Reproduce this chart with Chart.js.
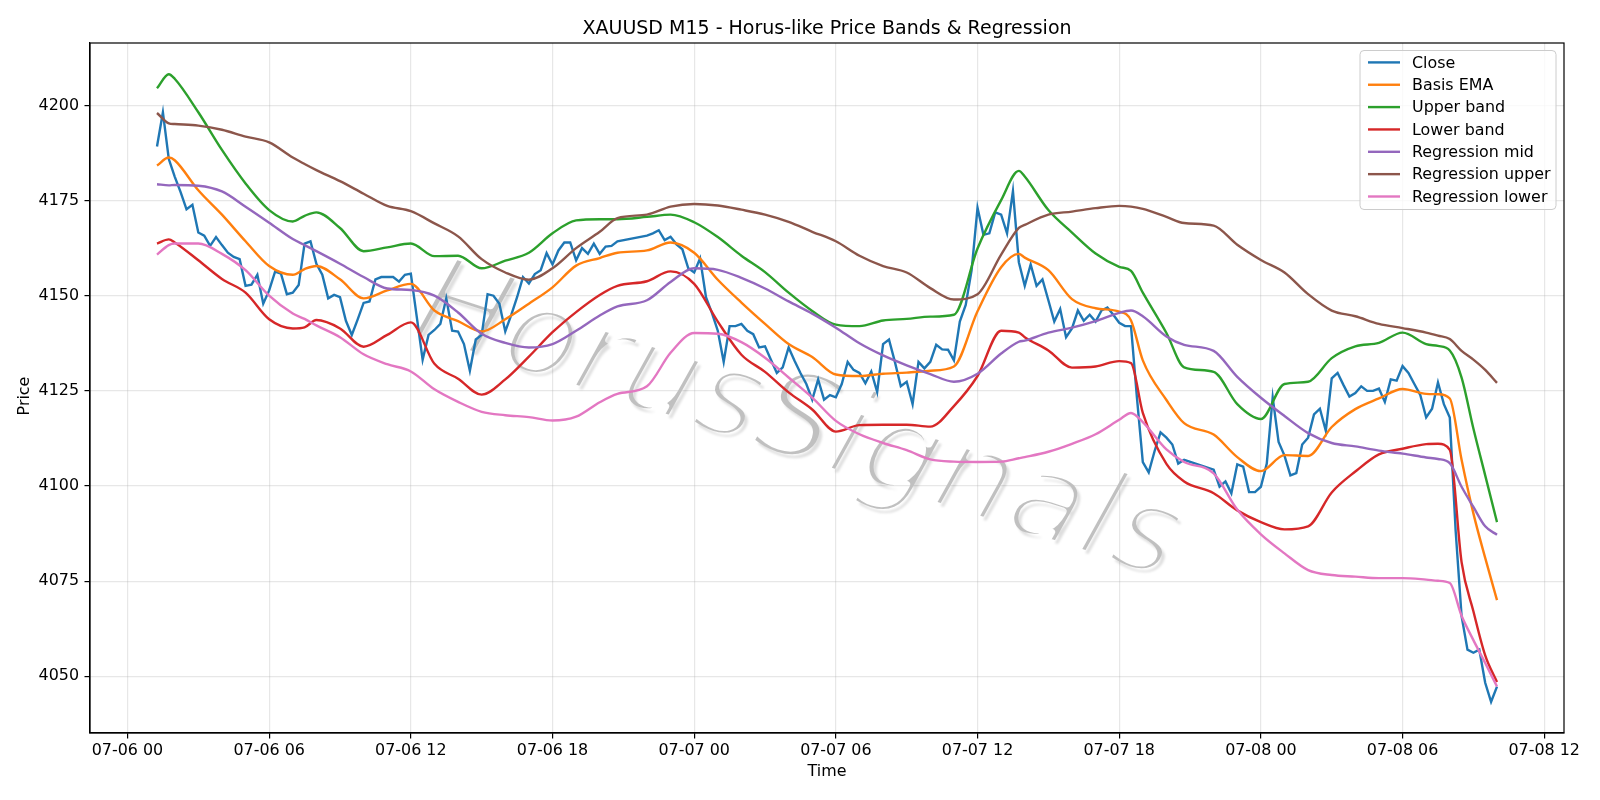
<!DOCTYPE html>
<html>
<head>
<meta charset="utf-8">
<title>XAUUSD M15 - Horus-like Price Bands & Regression</title>
<script src="https://cdn.jsdelivr.net/npm/chart.js@4.4.1/dist/chart.umd.min.js"></script>
<style>
  html, body { margin: 0; padding: 0; background: #fff; }
</style>
</head>
<body>
<canvas id="chart" width="1600" height="800"></canvas>
<script>
// time is in hours from 07-06 00:00, M15 bars, two daily breaks
const sessions = [[1.25, 20.75], [22, 44.75], [46, 58]];

const closeValues = [
  // 07-06 01:15 .. 20:45
  4189.2, 4198.2, 4185.9, 4181.3, 4177.2, 4172.7, 4173.9, 4166.6,
  4165.8, 4163.1, 4165.4, 4163.3, 4161.3, 4160.2, 4159.6, 4152.6,
  4152.9, 4155.5, 4147.9, 4151.4, 4156.3, 4155.8, 4150.4, 4150.8,
  4152.8, 4163.7, 4164.3, 4158.4, 4155.5, 4149.3, 4150.2, 4149.6,
  4143.4, 4139.7, 4143.8, 4148.1, 4148.5, 4154.3, 4154.9, 4154.9,
  4154.9, 4153.7, 4155.5, 4155.8, 4144.5, 4133.2, 4139.7, 4141.0,
  4142.6, 4149.3, 4140.8, 4140.6, 4137.3, 4130.3, 4138.5, 4139.7,
  4150.4, 4150.0, 4147.9, 4140.6, 4144.9, 4149.6, 4154.9, 4153.2,
  4155.7, 4156.7, 4161.2, 4158.2, 4161.9, 4164.0, 4164.0, 4159.3,
  4162.5, 4161.0, 4163.7, 4161.0, 4162.9, 4163.1, 4164.3,
  // 07-06 22:00 .. 07-07 20:45
  4165.8, 4166.4, 4167.2, 4164.6, 4165.5, 4163.5, 4162.2, 4157.2,
  4156.1, 4159.8, 4149.6, 4145.5, 4140.8, 4132.6, 4142.0, 4142.0,
  4142.6, 4140.8, 4139.9, 4136.4, 4136.7, 4133.2, 4129.7, 4131.2,
  4136.4, 4132.9, 4129.7, 4126.8, 4122.7, 4128.0, 4122.7, 4123.9,
  4123.3, 4126.8, 4132.6, 4130.5, 4129.7, 4127.0, 4130.1, 4124.7,
  4137.3, 4138.5, 4132.6, 4126.2, 4127.4, 4121.5, 4132.6, 4130.9,
  4132.6, 4137.1, 4135.9, 4135.8, 4133.0, 4143.2, 4147.6, 4156.7,
  4173.1, 4166.0, 4166.4, 4171.9, 4171.3, 4166.4, 4177.5, 4158.8,
  4152.6, 4158.2, 4152.6, 4154.3, 4148.8, 4143.2, 4146.5, 4139.1,
  4141.4, 4146.1, 4143.4, 4145.0, 4143.2, 4146.1, 4146.9, 4145.0,
  4142.9, 4142.0, 4142.0, 4123.3, 4106.3, 4103.6, 4109.2, 4114.1,
  4112.7, 4110.9, 4105.9, 4106.9,
  // 07-07 22:00 .. 07-08 10:00
  4104.3, 4099.8, 4101.2, 4098.1, 4105.7, 4105.1, 4098.4, 4098.4,
  4099.8, 4105.9, 4123.3, 4111.6, 4108.0, 4102.8, 4103.4, 4110.9,
  4112.7, 4118.8, 4120.3, 4114.5, 4128.3, 4129.7, 4126.5, 4123.5,
  4124.4, 4126.2, 4125.0, 4125.0, 4125.6, 4122.1, 4128.0, 4127.7,
  4131.5, 4129.7, 4126.8, 4123.9, 4118.0, 4120.3, 4127.2, 4121.5,
  4118.0, 4088.1, 4065.8, 4057.0, 4056.2, 4057.0, 4048.3, 4043.3,
  4047.3
];

// sampled hours for the smoother indicator lines
const bandHours = [
  1.25, 1.75, 2, 3, 4, 5, 6, 7, 7.5, 8,
  9, 10, 11, 12, 13, 14, 15, 16, 17, 18,
  19, 20, 20.75, 22, 23, 24, 25, 26, 27, 28,
  29, 30, 31, 32, 33, 34, 35, 36, 37, 37.75,
  38, 39, 40, 41, 42, 42.5, 43, 44, 44.75, 46,
  47, 48, 49, 50, 51, 52, 53, 54, 55, 55.5,
  56, 56.5, 57, 57.5, 58
];

const basisEma = [
  4184.2, 4186.3, 4185.6, 4177.7, 4171.3, 4164.3, 4157.8, 4155.5, 4157.0, 4157.8,
  4154.3, 4149.3, 4151.4, 4153.1, 4146.1, 4143.3, 4140.6, 4143.8, 4147.9, 4152.2,
  4157.9, 4159.9, 4161.3, 4161.9, 4164.0, 4161.3, 4154.2, 4148.2, 4142.6, 4137.3,
  4133.9, 4129.3, 4128.9, 4129.5, 4129.8, 4130.3, 4131.4, 4145.9, 4157.5, 4161.0,
  4160.0, 4156.7, 4149.1, 4146.7, 4145.8, 4143.5, 4133.0, 4122.6, 4116.5, 4113.5,
  4107.6, 4103.9, 4108.1, 4107.9, 4115.5, 4120.2, 4123.0, 4125.5, 4124.2, 4124.1,
  4123.0, 4106.9, 4092.8, 4081.1, 4070.0
];

const upperBand = [
  4204.5, 4208.2, 4207.0, 4198.2, 4188.3, 4179.5, 4172.5, 4169.5, 4171.0, 4171.9,
  4167.8, 4161.7, 4162.7, 4163.7, 4160.4, 4160.5, 4157.2, 4159.2, 4161.3, 4166.4,
  4169.8, 4170.1, 4170.1, 4170.7, 4171.3, 4169.3, 4165.4, 4160.5, 4156.2, 4150.8,
  4146.0, 4142.4, 4142.0, 4143.5, 4143.9, 4144.5, 4145.0, 4162.4, 4175.1, 4182.8,
  4181.3, 4172.5, 4166.6, 4161.1, 4157.6, 4156.5, 4150.8, 4140.2, 4131.2, 4130.0,
  4121.5, 4117.6, 4126.8, 4127.4, 4133.6, 4136.7, 4137.6, 4140.3, 4137.3, 4136.8,
  4135.6, 4128.5, 4115.1, 4102.8, 4090.5
];

const lowerBand = [
  4163.7, 4164.8, 4164.0, 4159.3, 4154.4, 4150.8, 4143.8, 4141.4, 4141.7, 4143.6,
  4141.4, 4136.6, 4139.7, 4143.0, 4132.1, 4128.2, 4124.0, 4128.0, 4134.0, 4140.4,
  4145.7, 4150.2, 4152.6, 4153.8, 4156.4, 4153.1, 4143.2, 4134.5, 4130.0, 4124.6,
  4120.1, 4114.3, 4116.0, 4116.1, 4116.1, 4115.6, 4121.0, 4128.9, 4140.8, 4140.3,
  4139.1, 4135.6, 4131.1, 4131.4, 4132.8, 4132.3, 4119.2, 4105.8, 4101.2, 4098.1,
  4093.6, 4090.5, 4088.6, 4089.4, 4098.3, 4103.8, 4108.3, 4109.8, 4111.0, 4111.1,
  4109.5, 4080.0, 4067.1, 4055.5, 4048.5
];

const regMid = [
  4179.3, 4179.0, 4179.1, 4178.9, 4177.4, 4173.4, 4169.2, 4164.9, 4163.3, 4161.7,
  4158.4, 4154.9, 4151.9, 4151.5, 4150.0, 4145.6, 4140.0, 4137.6, 4136.4, 4137.3,
  4140.8, 4144.8, 4147.2, 4148.8, 4153.6, 4157.2, 4156.8, 4154.7, 4151.9, 4148.5,
  4145.3, 4141.6, 4137.5, 4134.3, 4131.7, 4129.4, 4127.4, 4129.5, 4134.8, 4137.9,
  4138.2, 4140.3, 4141.6, 4143.3, 4145.5, 4146.1, 4144.6, 4139.3, 4137.1, 4135.5,
  4128.7, 4123.2, 4118.4, 4113.9, 4111.3, 4110.4, 4109.3, 4108.5, 4107.5, 4107.1,
  4106.0, 4099.8, 4094.5, 4089.4, 4087.2
];

const regUpper = [
  4198.0, 4195.3, 4195.1, 4194.7, 4193.6, 4191.8, 4190.3, 4186.3, 4184.6, 4183.0,
  4180.1, 4176.8, 4173.6, 4172.2, 4169.0, 4165.6, 4159.6, 4156.1, 4154.2, 4157.2,
  4162.5, 4166.8, 4170.4, 4171.3, 4173.4, 4174.1, 4173.7, 4172.6, 4171.3, 4169.4,
  4166.8, 4164.3, 4160.5, 4157.8, 4156.1, 4152.0, 4149.0, 4150.4, 4160.8, 4167.8,
  4168.6, 4171.3, 4172.1, 4173.0, 4173.6, 4173.4, 4172.8, 4170.7, 4169.1, 4168.4,
  4163.4, 4159.4, 4156.1, 4150.4, 4146.1, 4144.6, 4142.6, 4141.5, 4140.3, 4139.5,
  4138.6, 4135.5, 4133.2, 4130.5, 4127.1
];

const regLower = [
  4160.8, 4163.3, 4163.7, 4163.7, 4161.0, 4156.7, 4150.0, 4145.3, 4143.9, 4142.2,
  4139.1, 4134.6, 4132.0, 4130.1, 4125.4, 4122.1, 4119.5, 4118.6, 4118.1, 4117.2,
  4118.2, 4122.0, 4124.2, 4126.2, 4135.0, 4140.2, 4140.0, 4137.8, 4133.7, 4128.5,
  4123.2, 4117.1, 4113.6, 4111.3, 4109.4, 4107.0, 4106.4, 4106.3, 4106.4, 4107.3,
  4107.6, 4109.0, 4111.1, 4113.6, 4117.4, 4119.2, 4116.8, 4109.6, 4106.3, 4103.3,
  4093.8, 4087.3, 4082.3, 4077.9, 4076.6, 4076.2, 4075.8, 4075.8, 4075.4, 4075.1,
  4074.5, 4065.9, 4059.5, 4053.5, 4047.3
];

const hourTicks = [0, 6, 12, 18, 24, 30, 36, 42, 48, 54, 60];
const priceTicks = [4050, 4075, 4100, 4125, 4150, 4175, 4200];

const FONT = 'DejaVu Sans';

function barHours() {
  const out = [];
  sessions.forEach(function (s) {
    for (let h = s[0]; h <= s[1] + 1e-9; h += 0.25) out.push(h);
  });
  return out;
}

function toPoints(xs, ys) {
  return xs.map(function (x, i) { return { x: x, y: ys[i] }; });
}

function hourLabel(h) {
  const day = 6 + Math.floor(h / 24);
  const hh = h % 24;
  return '07-0' + day + ' ' + (hh < 10 ? '0' : '') + hh;
}

const closeHours = barHours();

function line(label, xs, ys, color, order, smooth) {
  const ds = {
    label: label,
    data: toPoints(xs, ys),
    borderColor: color,
    backgroundColor: color,
    borderWidth: 2.4,
    pointRadius: 0,
    tension: 0,
    fill: false,
    order: order
  };
  if (smooth) ds.cubicInterpolationMode = 'monotone';
  return ds;
}

// thin watermark: fill the text on a spare canvas, then eat the glyph edges away
function watermarkCanvas(w, h) {
  const c = document.createElement('canvas');
  c.width = w;
  c.height = h;
  const g = c.getContext('2d');
  g.translate(787, 457);
  g.rotate(18 * Math.PI / 180);
  g.font = 'italic 122px ' + FONT;
  g.textAlign = 'center';
  g.textBaseline = 'alphabetic';
  g.fillStyle = 'rgb(192,192,192)';
  g.fillText('HorusSignals', 0, 0);
  g.globalCompositeOperation = 'destination-out';
  g.lineWidth = 7.5;
  g.lineJoin = 'round';
  g.strokeText('HorusSignals', 0, 0);
  return c;
}

const decor = {
  id: 'decor',
  beforeDraw(chart) {
    const ctx = chart.ctx;
    ctx.save();
    ctx.fillStyle = '#fff';
    ctx.fillRect(0, 0, chart.width, chart.height);
    ctx.restore();
  },
  beforeDatasetsDraw(chart) {
    const ctx = chart.ctx;
    const a = chart.chartArea;
    const wm = watermarkCanvas(chart.width, chart.height);
    ctx.save();
    ctx.beginPath();
    ctx.rect(a.left, a.top, a.right - a.left, a.bottom - a.top);
    ctx.clip();
    ctx.shadowColor = 'rgba(0,0,0,0.13)';
    ctx.shadowOffsetX = 3;
    ctx.shadowOffsetY = 4;
    ctx.shadowBlur = 2;
    ctx.drawImage(wm, 0, 0);
    ctx.restore();
  },
  afterDraw(chart) {
    const ctx = chart.ctx;
    const a = chart.chartArea;
    ctx.save();
    // frame
    ctx.strokeStyle = '#000';
    ctx.lineWidth = 1.2;
    ctx.strokeRect(a.left, a.top, a.right - a.left, a.bottom - a.top);
    // title
    ctx.fillStyle = '#000';
    ctx.font = '19px ' + FONT;
    ctx.textAlign = 'center';
    ctx.textBaseline = 'alphabetic';
    ctx.fillText('XAUUSD M15 - Horus-like Price Bands & Regression', (a.left + a.right) / 2, 33.5);
    // y axis label
    ctx.save();
    ctx.translate(25, 396);
    ctx.rotate(-Math.PI / 2);
    ctx.font = '15.9px ' + FONT;
    ctx.textBaseline = 'middle';
    ctx.fillText('Price', 0, 0);
    ctx.restore();
    // legend box
    const lx = 1360, ly = 50.5, lw = 196, lh = 159;
    ctx.beginPath();
    ctx.roundRect(lx, ly, lw, lh, 4);
    ctx.fillStyle = 'rgba(255,255,255,0.8)';
    ctx.fill();
    ctx.strokeStyle = '#cccccc';
    ctx.lineWidth = 1;
    ctx.stroke();
    ctx.font = '15.9px ' + FONT;
    ctx.textAlign = 'left';
    ctx.textBaseline = 'middle';
    chart.data.datasets.forEach(function (ds, i) {
      const y = 62.4 + i * 22.35;
      ctx.strokeStyle = ds.borderColor;
      ctx.lineWidth = 2.4;
      ctx.beginPath();
      ctx.moveTo(1368, y);
      ctx.lineTo(1400, y);
      ctx.stroke();
      ctx.fillStyle = '#000';
      ctx.fillText(ds.label, 1412, y + 1);
    });
    ctx.restore();
  }
};

const gridColor = 'rgba(176,176,176,0.3)';

new Chart(document.getElementById('chart'), {
  type: 'line',
  data: {
    datasets: [
      line('Close', closeHours, closeValues, '#1f77b4', 7, false),
      line('Basis EMA', bandHours, basisEma, '#ff7f0e', 6, true),
      line('Upper band', bandHours, upperBand, '#2ca02c', 5, true),
      line('Lower band', bandHours, lowerBand, '#d62728', 4, true),
      line('Regression mid', bandHours, regMid, '#9467bd', 3, true),
      line('Regression upper', bandHours, regUpper, '#8c564b', 2, true),
      line('Regression lower', bandHours, regLower, '#e377c2', 1, true)
    ]
  },
  options: {
    responsive: false,
    animation: false,
    devicePixelRatio: 1,
    layout: { padding: { top: 43, right: 36, bottom: 0, left: 0 } },
    plugins: {
      legend: { display: false },
      title: { display: false },
      tooltip: { enabled: false }
    },
    scales: {
      x: {
        type: 'linear',
        min: -1.5875,
        max: 60.8375,
        afterBuildTicks: function (s) { s.ticks = hourTicks.map(function (v) { return { value: v }; }); },
        afterFit: function (s) { s.height = 67; },
        ticks: {
          callback: hourLabel,
          color: '#000',
          font: { family: FONT, size: 15.9 },
          maxRotation: 0,
          autoSkip: false,
          padding: 2.5
        },
        grid: { color: gridColor, lineWidth: 1.2, tickLength: 5.5, tickColor: '#000', tickWidth: 1.2 },
        border: { color: '#000', width: 1.2 },
        title: {
          display: true,
          text: 'Time',
          color: '#000',
          font: { family: FONT, size: 15.9 },
          padding: { top: 0, bottom: 19 }
        }
      },
      y: {
        min: 4035.1,
        max: 4216.4,
        afterBuildTicks: function (s) { s.ticks = priceTicks.map(function (v) { return { value: v }; }); },
        afterFit: function (s) { s.width = 90; },
        ticks: {
          callback: function (v) { return String(v); },
          color: '#000',
          font: { family: FONT, size: 15.9 },
          padding: 5.5
        },
        grid: { color: gridColor, lineWidth: 1.2, tickLength: 5.5, tickColor: '#000', tickWidth: 1.2 },
        border: { color: '#000', width: 1.2 }
      }
    }
  },
  plugins: [decor]
});
</script>
</body>
</html>
